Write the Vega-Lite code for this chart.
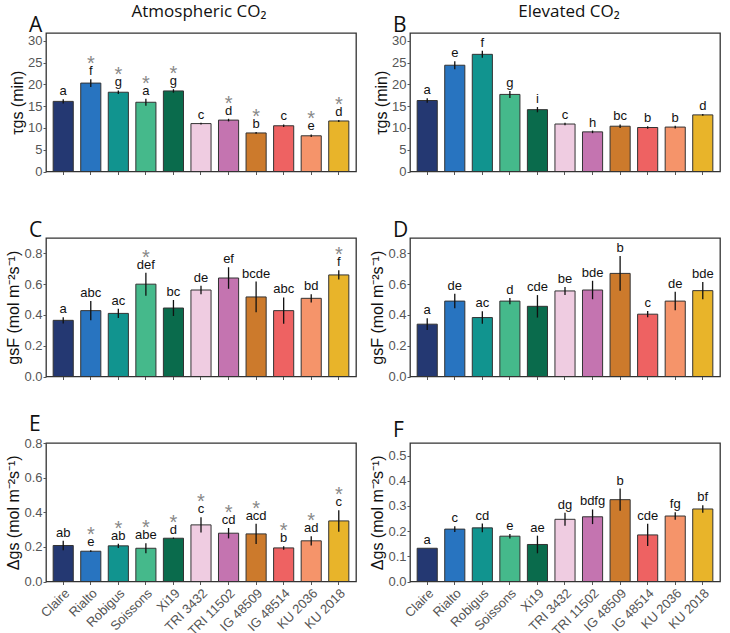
{
"$schema": "https://vega.github.io/schema/vega-lite/v6.json",
"padding": {"left": 5, "top": 3, "right": 2, "bottom": 2},
"data": {"values": [
{"p":"A","c":"Claire","v":16.1,"lo":15.6,"hi":16.6,"l":"a","s":""},
{"p":"A","c":"Rialto","v":20.3,"lo":19.4,"hi":21.2,"l":"f","s":"*"},
{"p":"A","c":"Robigus","v":18.2,"lo":17.8,"hi":18.6,"l":"g","s":"*"},
{"p":"A","c":"Soissons","v":15.9,"lo":15.1,"hi":16.7,"l":"a","s":"*"},
{"p":"A","c":"Xi19","v":18.5,"lo":18.1,"hi":18.9,"l":"g","s":"*"},
{"p":"A","c":"TRI 3432","v":11.0,"lo":10.8,"hi":11.2,"l":"c","s":""},
{"p":"A","c":"TRI 11502","v":11.8,"lo":11.5,"hi":12.1,"l":"d","s":"*"},
{"p":"A","c":"IG 48509","v":8.85,"lo":8.65,"hi":9.05,"l":"b","s":"*"},
{"p":"A","c":"IG 48514","v":10.5,"lo":10.2,"hi":10.8,"l":"c","s":""},
{"p":"A","c":"KU 2036","v":8.2,"lo":7.9,"hi":8.5,"l":"e","s":"*"},
{"p":"A","c":"KU 2018","v":11.6,"lo":11.35,"hi":11.85,"l":"d","s":"*"},
{"p":"B","c":"Claire","v":16.3,"lo":15.8,"hi":16.8,"l":"a","s":""},
{"p":"B","c":"Rialto","v":24.4,"lo":23.5,"hi":25.3,"l":"e","s":""},
{"p":"B","c":"Robigus","v":26.9,"lo":26.1,"hi":27.7,"l":"f","s":""},
{"p":"B","c":"Soissons","v":17.7,"lo":16.9,"hi":18.5,"l":"g","s":""},
{"p":"B","c":"Xi19","v":14.2,"lo":13.6,"hi":14.8,"l":"i","s":""},
{"p":"B","c":"TRI 3432","v":10.9,"lo":10.6,"hi":11.2,"l":"c","s":""},
{"p":"B","c":"TRI 11502","v":9.1,"lo":8.8,"hi":9.4,"l":"h","s":""},
{"p":"B","c":"IG 48509","v":10.4,"lo":10.0,"hi":10.8,"l":"bc","s":""},
{"p":"B","c":"IG 48514","v":10.1,"lo":9.8,"hi":10.4,"l":"b","s":""},
{"p":"B","c":"KU 2036","v":10.2,"lo":9.9,"hi":10.5,"l":"b","s":""},
{"p":"B","c":"KU 2018","v":13.0,"lo":12.8,"hi":13.2,"l":"d","s":""},
{"p":"C","c":"Claire","v":0.365,"lo":0.345,"hi":0.385,"l":"a","s":""},
{"p":"C","c":"Rialto","v":0.428,"lo":0.366,"hi":0.49,"l":"abc","s":""},
{"p":"C","c":"Robigus","v":0.41,"lo":0.38,"hi":0.44,"l":"ac","s":""},
{"p":"C","c":"Soissons","v":0.6,"lo":0.525,"hi":0.675,"l":"def","s":"*"},
{"p":"C","c":"Xi19","v":0.445,"lo":0.393,"hi":0.497,"l":"bc","s":""},
{"p":"C","c":"TRI 3432","v":0.562,"lo":0.535,"hi":0.589,"l":"de","s":""},
{"p":"C","c":"TRI 11502","v":0.64,"lo":0.57,"hi":0.71,"l":"ef","s":""},
{"p":"C","c":"IG 48509","v":0.517,"lo":0.417,"hi":0.617,"l":"bcde","s":""},
{"p":"C","c":"IG 48514","v":0.428,"lo":0.342,"hi":0.514,"l":"abc","s":""},
{"p":"C","c":"KU 2036","v":0.508,"lo":0.481,"hi":0.535,"l":"bd","s":""},
{"p":"C","c":"KU 2018","v":0.66,"lo":0.63,"hi":0.69,"l":"f","s":"*"},
{"p":"D","c":"Claire","v":0.34,"lo":0.302,"hi":0.378,"l":"a","s":""},
{"p":"D","c":"Rialto","v":0.49,"lo":0.443,"hi":0.537,"l":"de","s":""},
{"p":"D","c":"Robigus","v":0.383,"lo":0.342,"hi":0.424,"l":"ac","s":""},
{"p":"D","c":"Soissons","v":0.49,"lo":0.47,"hi":0.51,"l":"d","s":""},
{"p":"D","c":"Xi19","v":0.456,"lo":0.383,"hi":0.529,"l":"cde","s":""},
{"p":"D","c":"TRI 3432","v":0.556,"lo":0.53,"hi":0.582,"l":"be","s":""},
{"p":"D","c":"TRI 11502","v":0.562,"lo":0.502,"hi":0.622,"l":"bde","s":""},
{"p":"D","c":"IG 48509","v":0.67,"lo":0.557,"hi":0.783,"l":"b","s":""},
{"p":"D","c":"IG 48514","v":0.405,"lo":0.385,"hi":0.425,"l":"c","s":""},
{"p":"D","c":"KU 2036","v":0.49,"lo":0.43,"hi":0.55,"l":"de","s":""},
{"p":"D","c":"KU 2018","v":0.558,"lo":0.502,"hi":0.614,"l":"bde","s":""},
{"p":"E","c":"Claire","v":0.208,"lo":0.181,"hi":0.235,"l":"ab","s":""},
{"p":"E","c":"Rialto","v":0.175,"lo":0.17,"hi":0.18,"l":"e","s":"*"},
{"p":"E","c":"Robigus","v":0.206,"lo":0.194,"hi":0.218,"l":"ab","s":"*"},
{"p":"E","c":"Soissons","v":0.192,"lo":0.163,"hi":0.221,"l":"abe","s":"*"},
{"p":"E","c":"Xi19","v":0.25,"lo":0.246,"hi":0.254,"l":"d","s":"*"},
{"p":"E","c":"TRI 3432","v":0.327,"lo":0.283,"hi":0.371,"l":"c","s":"*"},
{"p":"E","c":"TRI 11502","v":0.279,"lo":0.249,"hi":0.309,"l":"cd","s":"*"},
{"p":"E","c":"IG 48509","v":0.275,"lo":0.217,"hi":0.333,"l":"acd","s":"*"},
{"p":"E","c":"IG 48514","v":0.194,"lo":0.184,"hi":0.204,"l":"b","s":"*"},
{"p":"E","c":"KU 2036","v":0.235,"lo":0.208,"hi":0.262,"l":"ad","s":"*"},
{"p":"E","c":"KU 2018","v":0.35,"lo":0.288,"hi":0.412,"l":"c","s":"*"},
{"p":"F","c":"Claire","v":0.132,"lo":0.132,"hi":0.132,"l":"a","s":""},
{"p":"F","c":"Rialto","v":0.208,"lo":0.197,"hi":0.219,"l":"c","s":""},
{"p":"F","c":"Robigus","v":0.213,"lo":0.196,"hi":0.23,"l":"cd","s":""},
{"p":"F","c":"Soissons","v":0.18,"lo":0.171,"hi":0.189,"l":"e","s":""},
{"p":"F","c":"Xi19","v":0.147,"lo":0.112,"hi":0.182,"l":"ae","s":""},
{"p":"F","c":"TRI 3432","v":0.247,"lo":0.221,"hi":0.273,"l":"dg","s":""},
{"p":"F","c":"TRI 11502","v":0.257,"lo":0.228,"hi":0.286,"l":"bdfg","s":""},
{"p":"F","c":"IG 48509","v":0.325,"lo":0.281,"hi":0.369,"l":"b","s":""},
{"p":"F","c":"IG 48514","v":0.185,"lo":0.141,"hi":0.229,"l":"cde","s":""},
{"p":"F","c":"KU 2036","v":0.26,"lo":0.245,"hi":0.275,"l":"fg","s":""},
{"p":"F","c":"KU 2018","v":0.288,"lo":0.273,"hi":0.303,"l":"bf","s":""}
]},
"spacing": 12,
"hconcat": [
{
"title": {"text": "Atmospheric CO₂", "anchor": "middle", "dx": 18, "fontSize": 17, "offset": -7},
"bounds": "flush",
"spacing": 66,
"vconcat": [
{"width": 310, "height": 138.5,
 "title": {"text": "A", "anchor": "start", "frame": "group", "dx": -17, "fontSize": 21, "offset": -3},
 "transform": [{"filter": "datum.p === 'A'"}],
 "encoding": {"x": {"field": "c", "type": "nominal", "sort": ["Claire","Rialto","Robigus","Soissons","Xi19","TRI 3432","TRI 11502","IG 48509","IG 48514","KU 2036","KU 2018"], "scale": {"paddingInner": 0.27, "paddingOuter": 0.26}, "axis": {"labels": false, "title": null}}},
 "layer": [
  {"mark": {"type": "bar", "stroke": "#333", "strokeWidth": 1}, "encoding": {"y": {"field": "v", "type": "quantitative", "scale": {"domain": [0, 31.8], "nice": false, "zero": true}, "axis": {"values": [0,5,10,15,20,25,30], "labelOverlap": false, "title": "τgs (min)"}}, "fill": {"field": "c", "type": "nominal", "scale": {"domain": ["Claire","Rialto","Robigus","Soissons","Xi19","TRI 3432","TRI 11502","IG 48509","IG 48514","KU 2036","KU 2018"], "range": ["#243872","#2874c0","#11948f","#45b98b","#0a6b4c","#efcce1","#c474b0","#cc7a2c","#ee6262","#f5946a","#e8b42a"]}, "legend": null}}},
  {"mark": {"type": "rule", "strokeWidth": 1.3, "color": "#111"}, "encoding": {"y": {"field": "lo", "type": "quantitative", "axis": {"values": [0,5,10,15,20,25,30], "labelOverlap": false, "title": "τgs (min)"}}, "y2": {"field": "hi"}}},
  {"mark": {"type": "text", "baseline": "alphabetic", "dy": -4, "fontSize": 13, "color": "#111"}, "encoding": {"y": {"field": "hi", "type": "quantitative", "axis": {"values": [0,5,10,15,20,25,30], "labelOverlap": false, "title": "τgs (min)"}}, "text": {"field": "l"}}},
  {"mark": {"type": "text", "baseline": "alphabetic", "dy": -9, "fontSize": 20, "color": "#888"}, "encoding": {"y": {"field": "hi", "type": "quantitative", "axis": {"values": [0,5,10,15,20,25,30], "labelOverlap": false, "title": "τgs (min)"}}, "text": {"field": "s"}}}
 ]},
{"width": 310, "height": 138.5,
 "title": {"text": "C", "anchor": "start", "frame": "group", "dx": -17, "fontSize": 21, "offset": -3},
 "transform": [{"filter": "datum.p === 'C'"}],
 "encoding": {"x": {"field": "c", "type": "nominal", "sort": ["Claire","Rialto","Robigus","Soissons","Xi19","TRI 3432","TRI 11502","IG 48509","IG 48514","KU 2036","KU 2018"], "scale": {"paddingInner": 0.27, "paddingOuter": 0.26}, "axis": {"labels": false, "title": null}}},
 "layer": [
  {"mark": {"type": "bar", "stroke": "#333", "strokeWidth": 1}, "encoding": {"y": {"field": "v", "type": "quantitative", "scale": {"domain": [0, 0.9], "nice": false}, "axis": {"values": [0,0.2,0.4,0.6,0.8], "labelOverlap": false, "format": ".1f", "title": "gsF (mol m⁻²s⁻¹)"}}, "fill": {"field": "c", "type": "nominal", "scale": {"domain": ["Claire","Rialto","Robigus","Soissons","Xi19","TRI 3432","TRI 11502","IG 48509","IG 48514","KU 2036","KU 2018"], "range": ["#243872","#2874c0","#11948f","#45b98b","#0a6b4c","#efcce1","#c474b0","#cc7a2c","#ee6262","#f5946a","#e8b42a"]}, "legend": null}}},
  {"mark": {"type": "rule", "strokeWidth": 1.3, "color": "#111"}, "encoding": {"y": {"field": "lo", "type": "quantitative", "axis": {"values": [0,0.2,0.4,0.6,0.8], "labelOverlap": false, "format": ".1f", "title": "gsF (mol m⁻²s⁻¹)"}}, "y2": {"field": "hi"}}},
  {"mark": {"type": "text", "baseline": "alphabetic", "dy": -4, "fontSize": 13, "color": "#111"}, "encoding": {"y": {"field": "hi", "type": "quantitative", "axis": {"values": [0,0.2,0.4,0.6,0.8], "labelOverlap": false, "format": ".1f", "title": "gsF (mol m⁻²s⁻¹)"}}, "text": {"field": "l"}}},
  {"mark": {"type": "text", "baseline": "alphabetic", "dy": -9, "fontSize": 20, "color": "#888"}, "encoding": {"y": {"field": "hi", "type": "quantitative", "axis": {"values": [0,0.2,0.4,0.6,0.8], "labelOverlap": false, "format": ".1f", "title": "gsF (mol m⁻²s⁻¹)"}}, "text": {"field": "s"}}}
 ]},
{"width": 310, "height": 138.5,
 "title": {"text": "E", "anchor": "start", "frame": "group", "dx": -17, "fontSize": 21, "offset": 2},
 "transform": [{"filter": "datum.p === 'E'"}],
 "encoding": {"x": {"field": "c", "type": "nominal", "sort": ["Claire","Rialto","Robigus","Soissons","Xi19","TRI 3432","TRI 11502","IG 48509","IG 48514","KU 2036","KU 2018"], "scale": {"paddingInner": 0.27, "paddingOuter": 0.26}, "axis": {"labelAngle": -45, "labelAlign": "right", "labelBaseline": "top", "title": null}}},
 "layer": [
  {"mark": {"type": "bar", "stroke": "#333", "strokeWidth": 1}, "encoding": {"y": {"field": "v", "type": "quantitative", "scale": {"domain": [0, 0.8], "nice": false}, "axis": {"values": [0,0.2,0.4,0.6,0.8], "labelOverlap": false, "format": ".1f", "title": "Δgs (mol m⁻²s⁻¹)"}}, "fill": {"field": "c", "type": "nominal", "scale": {"domain": ["Claire","Rialto","Robigus","Soissons","Xi19","TRI 3432","TRI 11502","IG 48509","IG 48514","KU 2036","KU 2018"], "range": ["#243872","#2874c0","#11948f","#45b98b","#0a6b4c","#efcce1","#c474b0","#cc7a2c","#ee6262","#f5946a","#e8b42a"]}, "legend": null}}},
  {"mark": {"type": "rule", "strokeWidth": 1.3, "color": "#111"}, "encoding": {"y": {"field": "lo", "type": "quantitative", "axis": {"values": [0,0.2,0.4,0.6,0.8], "labelOverlap": false, "format": ".1f", "title": "Δgs (mol m⁻²s⁻¹)"}}, "y2": {"field": "hi"}}},
  {"mark": {"type": "text", "baseline": "alphabetic", "dy": -4, "fontSize": 13, "color": "#111"}, "encoding": {"y": {"field": "hi", "type": "quantitative", "axis": {"values": [0,0.2,0.4,0.6,0.8], "labelOverlap": false, "format": ".1f", "title": "Δgs (mol m⁻²s⁻¹)"}}, "text": {"field": "l"}}},
  {"mark": {"type": "text", "baseline": "alphabetic", "dy": -9, "fontSize": 20, "color": "#888"}, "encoding": {"y": {"field": "hi", "type": "quantitative", "axis": {"values": [0,0.2,0.4,0.6,0.8], "labelOverlap": false, "format": ".1f", "title": "Δgs (mol m⁻²s⁻¹)"}}, "text": {"field": "s"}}}
 ]}
]
},
{
"title": {"text": "Elevated CO₂", "anchor": "middle", "dx": 24, "fontSize": 17, "offset": -7},
"bounds": "flush",
"spacing": 66,
"vconcat": [
{"width": 310, "height": 138.5,
 "title": {"text": "B", "anchor": "start", "frame": "group", "dx": -17, "fontSize": 21, "offset": -3},
 "transform": [{"filter": "datum.p === 'B'"}],
 "encoding": {"x": {"field": "c", "type": "nominal", "sort": ["Claire","Rialto","Robigus","Soissons","Xi19","TRI 3432","TRI 11502","IG 48509","IG 48514","KU 2036","KU 2018"], "scale": {"paddingInner": 0.27, "paddingOuter": 0.26}, "axis": {"labels": false, "title": null}}},
 "layer": [
  {"mark": {"type": "bar", "stroke": "#333", "strokeWidth": 1}, "encoding": {"y": {"field": "v", "type": "quantitative", "scale": {"domain": [0, 31.8], "nice": false}, "axis": {"values": [0,5,10,15,20,25,30], "labelOverlap": false, "title": "τgs (min)"}}, "fill": {"field": "c", "type": "nominal", "scale": {"domain": ["Claire","Rialto","Robigus","Soissons","Xi19","TRI 3432","TRI 11502","IG 48509","IG 48514","KU 2036","KU 2018"], "range": ["#243872","#2874c0","#11948f","#45b98b","#0a6b4c","#efcce1","#c474b0","#cc7a2c","#ee6262","#f5946a","#e8b42a"]}, "legend": null}}},
  {"mark": {"type": "rule", "strokeWidth": 1.3, "color": "#111"}, "encoding": {"y": {"field": "lo", "type": "quantitative", "axis": {"values": [0,5,10,15,20,25,30], "labelOverlap": false, "title": "τgs (min)"}}, "y2": {"field": "hi"}}},
  {"mark": {"type": "text", "baseline": "alphabetic", "dy": -4, "fontSize": 13, "color": "#111"}, "encoding": {"y": {"field": "hi", "type": "quantitative", "axis": {"values": [0,5,10,15,20,25,30], "labelOverlap": false, "title": "τgs (min)"}}, "text": {"field": "l"}}}
 ]},
{"width": 310, "height": 138.5,
 "title": {"text": "D", "anchor": "start", "frame": "group", "dx": -17, "fontSize": 21, "offset": -3},
 "transform": [{"filter": "datum.p === 'D'"}],
 "encoding": {"x": {"field": "c", "type": "nominal", "sort": ["Claire","Rialto","Robigus","Soissons","Xi19","TRI 3432","TRI 11502","IG 48509","IG 48514","KU 2036","KU 2018"], "scale": {"paddingInner": 0.27, "paddingOuter": 0.26}, "axis": {"labels": false, "title": null}}},
 "layer": [
  {"mark": {"type": "bar", "stroke": "#333", "strokeWidth": 1}, "encoding": {"y": {"field": "v", "type": "quantitative", "scale": {"domain": [0, 0.9], "nice": false}, "axis": {"values": [0,0.2,0.4,0.6,0.8], "labelOverlap": false, "format": ".1f", "title": "gsF (mol m⁻²s⁻¹)"}}, "fill": {"field": "c", "type": "nominal", "scale": {"domain": ["Claire","Rialto","Robigus","Soissons","Xi19","TRI 3432","TRI 11502","IG 48509","IG 48514","KU 2036","KU 2018"], "range": ["#243872","#2874c0","#11948f","#45b98b","#0a6b4c","#efcce1","#c474b0","#cc7a2c","#ee6262","#f5946a","#e8b42a"]}, "legend": null}}},
  {"mark": {"type": "rule", "strokeWidth": 1.3, "color": "#111"}, "encoding": {"y": {"field": "lo", "type": "quantitative", "axis": {"values": [0,0.2,0.4,0.6,0.8], "labelOverlap": false, "format": ".1f", "title": "gsF (mol m⁻²s⁻¹)"}}, "y2": {"field": "hi"}}},
  {"mark": {"type": "text", "baseline": "alphabetic", "dy": -4, "fontSize": 13, "color": "#111"}, "encoding": {"y": {"field": "hi", "type": "quantitative", "axis": {"values": [0,0.2,0.4,0.6,0.8], "labelOverlap": false, "format": ".1f", "title": "gsF (mol m⁻²s⁻¹)"}}, "text": {"field": "l"}}}
 ]},
{"width": 310, "height": 138.5,
 "title": {"text": "F", "anchor": "start", "frame": "group", "dx": -17, "fontSize": 21, "offset": 2},
 "transform": [{"filter": "datum.p === 'F'"}],
 "encoding": {"x": {"field": "c", "type": "nominal", "sort": ["Claire","Rialto","Robigus","Soissons","Xi19","TRI 3432","TRI 11502","IG 48509","IG 48514","KU 2036","KU 2018"], "scale": {"paddingInner": 0.27, "paddingOuter": 0.26}, "axis": {"labelAngle": -45, "labelAlign": "right", "labelBaseline": "top", "title": null}}},
 "layer": [
  {"mark": {"type": "bar", "stroke": "#333", "strokeWidth": 1}, "encoding": {"y": {"field": "v", "type": "quantitative", "scale": {"domain": [0, 0.55], "nice": false}, "axis": {"values": [0,0.1,0.2,0.3,0.4,0.5], "labelOverlap": false, "format": ".1f", "title": "Δgs (mol m⁻²s⁻¹)"}}, "fill": {"field": "c", "type": "nominal", "scale": {"domain": ["Claire","Rialto","Robigus","Soissons","Xi19","TRI 3432","TRI 11502","IG 48509","IG 48514","KU 2036","KU 2018"], "range": ["#243872","#2874c0","#11948f","#45b98b","#0a6b4c","#efcce1","#c474b0","#cc7a2c","#ee6262","#f5946a","#e8b42a"]}, "legend": null}}},
  {"mark": {"type": "rule", "strokeWidth": 1.3, "color": "#111"}, "encoding": {"y": {"field": "lo", "type": "quantitative", "axis": {"values": [0,0.1,0.2,0.3,0.4,0.5], "labelOverlap": false, "format": ".1f", "title": "Δgs (mol m⁻²s⁻¹)"}}, "y2": {"field": "hi"}}},
  {"mark": {"type": "text", "baseline": "alphabetic", "dy": -4, "fontSize": 13, "color": "#111"}, "encoding": {"y": {"field": "hi", "type": "quantitative", "axis": {"values": [0,0.1,0.2,0.3,0.4,0.5], "labelOverlap": false, "format": ".1f", "title": "Δgs (mol m⁻²s⁻¹)"}}, "text": {"field": "l"}}}
 ]}
]
}
],
"config": {
 "font": "Liberation Sans",
 "view": {"stroke": "#333", "strokeWidth": 1.3},
 "axis": {"domain": false, "grid": false, "tickColor": "#555", "tickSize": 3, "labelColor": "#555", "labelFontSize": 13, "labelOverlap": false, "titleFontSize": 16, "titleFontWeight": "normal", "titleColor": "#111", "labelPadding": 1, "titlePadding": 2},
 "axisX": {"labelFontSize": 13, "labelPadding": 2},
 "title": {"fontWeight": "normal", "font": "Open Sans", "color": "#111"}
}
}
